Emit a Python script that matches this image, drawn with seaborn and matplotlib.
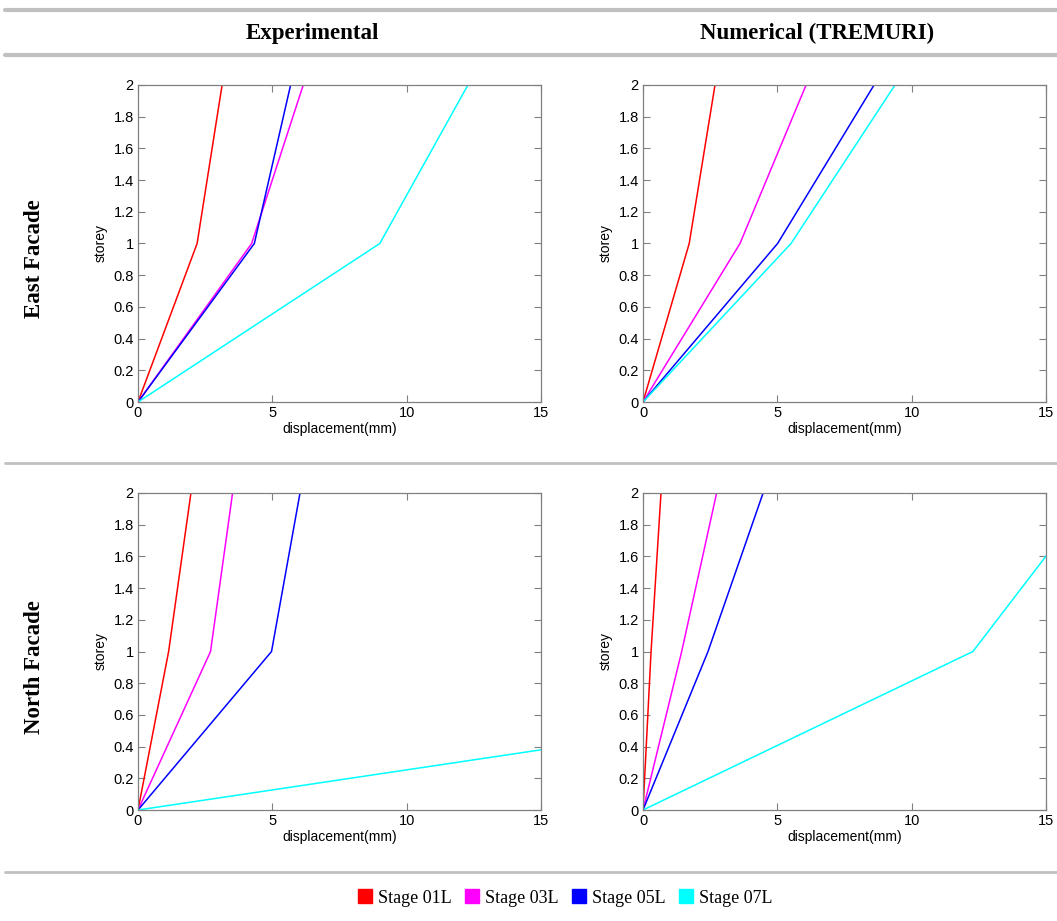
import numpy as np
import pandas as pd
import matplotlib
matplotlib.use("Agg")
import matplotlib.pyplot as plt
from matplotlib.lines import Line2D
from matplotlib.patches import Patch
import seaborn as sns

stages = ["Stage 01L", "Stage 03L", "Stage 05L", "Stage 07L"]
colors = ["#ff0000", "#ff00ff", "#0000ff", "#00ffff"]
storey = [0, 1, 2]

# displacement (mm) at storey 0, 1, 2
east_exp = {"Stage 01L": [0, 2.2, 3.13], "Stage 03L": [0, 4.23, 6.15],
            "Stage 05L": [0, 4.33, 5.68], "Stage 07L": [0, 9.0, 12.28]}
east_num = {"Stage 01L": [0, 1.72, 2.68], "Stage 03L": [0, 3.61, 6.07],
            "Stage 05L": [0, 5.01, 8.6], "Stage 07L": [0, 5.51, 9.38]}
north_exp = {"Stage 01L": [0, 1.14, 1.97], "Stage 03L": [0, 2.7, 3.52],
             "Stage 05L": [0, 4.97, 6.03], "Stage 07L": [0, 39.5, 50.0]}
north_num = {"Stage 01L": [0, 0.3, 0.67], "Stage 03L": [0, 1.44, 2.74],
             "Stage 05L": [0, 2.42, 4.47], "Stage 07L": [0, 12.28, 16.8]}

col_titles = ["Experimental", "Numerical (TREMURI)"]
row_titles = ["East Facade", "North Facade"]
xticks = [0, 5, 10, 15]
yticks = [0, 0.2, 0.4, 0.6, 0.8, 1, 1.2, 1.4, 1.6, 1.8, 2]
ytick_labels = ["0", "0.2", "0.4", "0.6", "0.8", "1", "1.2", "1.4", "1.6", "1.8", "2"]

def to_df(d):
    rows = []
    for s in stages:
        for i, (x, y) in enumerate(zip(d[s], storey)):
            rows.append({"stage": s, "disp": x, "storey": y, "order": i})
    return pd.DataFrame(rows)

sns.set_theme(style="white")
plt.rcParams["font.family"] = ["Liberation Sans", "DejaVu Sans"]
plt.rcParams["text.color"] = "black"
plt.rcParams["axes.labelcolor"] = "black"
plt.rcParams["xtick.color"] = "black"
plt.rcParams["ytick.color"] = "black"

fig = plt.figure(figsize=(10.57, 9.21), dpi=100)
W, H = 1057, 921
positions = {
    (0, 0): (138, 85), (0, 1): (643, 85),
    (1, 0): (138, 493), (1, 1): (643, 493),
}
datasets = {(0, 0): east_exp, (0, 1): east_num, (1, 0): north_exp, (1, 1): north_num}
aw, ah = 403, 317
pal = dict(zip(stages, colors))

for key, (px, py) in positions.items():
    ax = fig.add_axes([px / W, 1 - (py + ah) / H, aw / W, ah / H])
    df = to_df(datasets[key])
    sns.lineplot(data=df, x="disp", y="storey", hue="stage", palette=pal,
                 sort=False, estimator=None, units="stage", linewidth=1.1,
                 ax=ax, legend=False)
    ax.set_xlim(0, 15)
    ax.set_ylim(0, 2)
    ax.set_xticks(xticks)
    ax.set_xticklabels([str(t) for t in xticks])
    ax.set_yticks(yticks)
    ax.set_yticklabels(ytick_labels)
    ax.tick_params(direction="in", length=5, width=0.8, color="#808080",
                   top=True, right=True, bottom=True, left=True,
                   labelsize=10.5, labelcolor="black", pad=3)
    for sp in ax.spines.values():
        sp.set_color("#808080")
        sp.set_linewidth(0.9)
    ax.set_xlabel("displacement(mm)", fontsize=10, labelpad=1, color="black")
    ax.set_ylabel("storey", fontsize=10, labelpad=4, color="black")

serif = ["Liberation Serif", "DejaVu Serif"]
# header lines
for yy, lw in [(10, 3.0), (55, 3.0), (463, 2.0), (872, 2.0)]:
    fig.add_artist(Line2D([5 / W, 1.0], [1 - yy / H, 1 - yy / H],
                          color="#c0c0c0", linewidth=lw))

fig.text(312 / W, 1 - 33 / H, col_titles[0], ha="center", va="center",
         fontsize=16.5, fontweight="bold", family=serif, color="black")
fig.text(817 / W, 1 - 33 / H, col_titles[1], ha="center", va="center",
         fontsize=16.5, fontweight="bold", family=serif, color="black")
fig.text(35 / W, 1 - 259 / H, row_titles[0], ha="center", va="center",
         rotation=90, fontsize=16.5, fontweight="bold", family=serif, color="black")
fig.text(35 / W, 1 - 667 / H, row_titles[1], ha="center", va="center",
         rotation=90, fontsize=16.5, fontweight="bold", family=serif, color="black")

handles = [Patch(facecolor=c, edgecolor=c, label=s) for s, c in zip(stages, colors)]
fig.legend(handles=handles, loc="center", bbox_to_anchor=(565 / W, 1 - 898 / H),
           ncol=4, frameon=False, handlelength=0.8, handleheight=0.8,
           handletextpad=0.3, columnspacing=0.75, prop={"family": serif, "size": 13},
           labelcolor="black")

fig.savefig("out.png", dpi=100)
